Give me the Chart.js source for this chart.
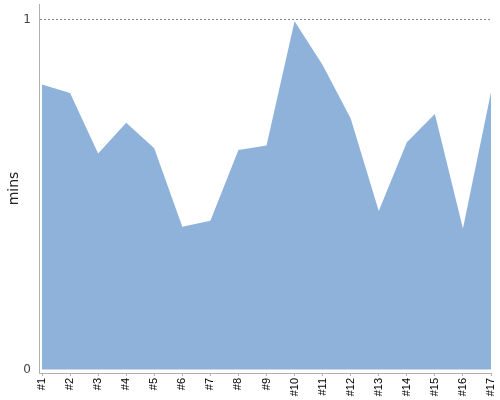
<!DOCTYPE html>
<html>
<head>
<meta charset="utf-8">
<script src="https://cdn.jsdelivr.net/npm/chart.js@4"></script>
<style>
  html, body { margin: 0; padding: 0; background: #fff; }
  canvas { display: block; }
</style>
</head>
<body>
<canvas id="chart" width="500" height="400"></canvas>
<script>
// Data
const labels = ['#1', '#2', '#3', '#4', '#5', '#6', '#7', '#8', '#9', '#10', '#11', '#12', '#13', '#14', '#15', '#16', '#17'];
const mins = [0.814, 0.790, 0.617, 0.705, 0.632, 0.408, 0.425, 0.627, 0.640, 0.995, 0.870, 0.717, 0.453, 0.649, 0.730, 0.403, 0.792];
const yTicks = [0, 1];

const points = mins.map((v, i) => ({ x: i + 1, y: v }));

// let the plot area run up to the canvas padding instead of reserving room for tick labels
function noOverflow(s) {
    s.paddingTop = 0;
    s.paddingBottom = 0;
    s.paddingLeft = 0;
    s.paddingRight = 0;
}

const ctx = document.getElementById('chart').getContext('2d');
new Chart(ctx, {
    type: 'line',
    data: {
        datasets: [{
            label: 'mins',
            data: points,
            fill: 'origin',
            backgroundColor: '#8fb2da',
            borderWidth: 0,
            pointRadius: 0,
            tension: 0
        }]
    },
    options: {
        responsive: false,
        animation: false,
        layout: { padding: { top: 4, right: 9, left: 0, bottom: 0 } },
        plugins: { legend: { display: false }, tooltip: { enabled: false } },
        scales: {
            x: {
                type: 'linear',
                min: 0.893,
                max: 17,
                afterBuildTicks: s => { s.ticks = labels.map((l, i) => ({ value: i + 1 })); },
                afterFit: s => { s.height = 27; noOverflow(s); },
                ticks: {
                    autoSkip: false,
                    minRotation: 90,
                    maxRotation: 90,
                    padding: 2,
                    color: '#000',
                    font: { family: 'Liberation Sans', size: 11 },
                    callback: v => labels[v - 1]
                },
                grid: { drawOnChartArea: false, drawTicks: true, tickLength: 3, color: '#b0b0b0' },
                border: { color: '#b0b0b0', width: 1 }
            },
            y: {
                min: -0.01,
                max: 1.044,
                afterBuildTicks: s => { s.ticks = yTicks.map(v => ({ value: v })); },
                afterFit: s => { s.width = 39; noOverflow(s); },
                title: {
                    display: true,
                    text: 'mins',
                    color: '#222',
                    font: { family: 'DejaVu Sans', size: 14 },
                    padding: { top: 6, bottom: 0 }
                },
                ticks: {
                    color: '#444',
                    padding: 8,
                    font: { family: 'DejaVu Sans', size: 12 }
                },
                grid: {
                    drawTicks: false,
                    color: c => (c.tick && c.tick.value === 1 ? '#888' : 'rgba(0,0,0,0)')
                },
                border: { color: '#b0b0b0', width: 1, dash: [2, 2] }
            }
        }
    }
});
</script>
</body>
</html>
